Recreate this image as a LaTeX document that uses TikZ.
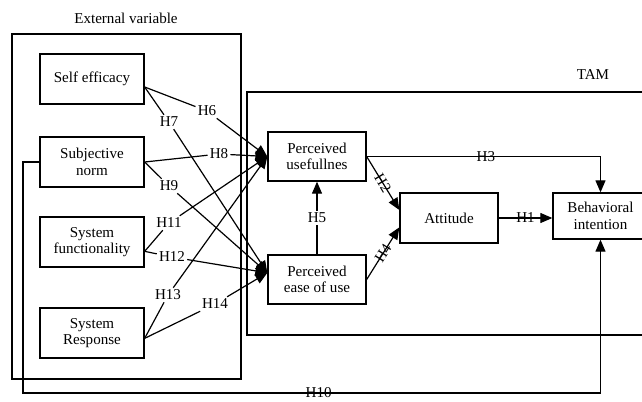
\documentclass[tikz,border=0pt]{standalone}
\usepackage{fontspec}
\setmainfont{Liberation Serif}
\usetikzlibrary{arrows.meta}
\tikzset{varbox/.style={draw,line width=1pt,align=center,inner sep=0.75pt},
    hyp/.style={inner sep=1.5pt,fill=white},
    hypon/.style={inner sep=0.75pt},
    plain/.style={line width=0.9pt},
    link/.style={line width=0.9pt,-{Triangle[length=9pt,width=7.5pt]}}}

\begin{document}
\begin{tikzpicture}[x=0.75pt,y=0.75pt,yscale=-1,xscale=1,font=\fontsize{11.3}{12.5}\selectfont]
\useasboundingbox (0,0) rectangle (642,401);

%Shape: Rectangle [External variable]
\draw [line width=1pt] (12,34) rectangle (241,379);
%Shape: Rectangle [TAM]
\draw [line width=1pt] (247,92) rectangle (655,335);

% Text Node
\node (extlbl) at (126,18) {External variable};
% Text Node
\node (tamlbl) at (593,75) {TAM};

%Shape: Boxes
\node [varbox,minimum width=78pt,minimum height=37.5pt] (se) at (92,79) {Self efficacy};
\node [varbox,minimum width=78pt,minimum height=37.5pt] (sn) at (92,162) {Subjective\\norm};
\node [varbox,minimum width=78pt,minimum height=37.5pt] (sf) at (92,242) {System\\functionality};
\node [varbox,minimum width=78pt,minimum height=37.5pt] (sr) at (92,333) {System\\Response};
\node [varbox,minimum width=73.5pt,minimum height=36.75pt] (pu) at (317,156.5) {Perceived\\usefullnes};
\node [varbox,minimum width=73.5pt,minimum height=36.75pt] (peou) at (317,279.5) {Perceived\\ease of use};
\node [varbox,minimum width=73.5pt,minimum height=37.5pt] (att) at (449,218) {Attitude};
\node [varbox,minimum width=71.25pt,minimum height=34.5pt] (bi) at (600.5,216) {Behavioral\\intention};

% end points
\coordinate (seout) at ([yshift=6pt]se.east);
\coordinate (sfout) at ([yshift=7pt]sf.east);
\coordinate (srout) at ([yshift=4pt]sr.east);
\coordinate (puin) at (pu.west);
\coordinate (peouin) at ([yshift=-5pt]peou.west);
\coordinate (attup) at ([yshift=-6pt]att.west);
\coordinate (attdown) at ([yshift=7pt]att.west);
\coordinate (snleft) at (23,393);

% Text Node
\node [hyp] (h6) at (207,111) {H6};
\node [hyp] (h7) at (169,122) {H7};
\node [hyp] (h8) at (219,154) {H8};
\node [hyp] (h9) at (169,186) {H9};
\node [hyp] (h11) at (169,223) {H11};
\node [hyp] (h12) at (172,257) {H12};
\node [hyp] (h13) at (168,295) {H13};
\node [hyp] (h14) at (215,304) {H14};

%Straight Lines
\draw [plain] (seout) -- (h6);
\draw [link] (h6) -- (puin);
\draw [plain] (seout) -- (h7);
\draw [link] (h7) -- (peouin);
\draw [plain] (sn.east) -- (h8);
\draw [link] (h8) -- (puin);
\draw [plain] (sn.east) -- (h9);
\draw [link] (h9) -- (peouin);
\draw [plain] (sfout) -- (h11);
\draw [link] (h11) -- (puin);
\draw [plain] (sfout) -- (h12);
\draw [link] (h12) -- (peouin);
\draw [plain] (srout) -- (h13);
\draw [link] (h13) -- (puin);
\draw [plain] (srout) -- (h14);
\draw [link] (h14) -- (peouin);

%TAM links
\draw [link] (peou.north) -- node [hyp] {H5} (pu.south);
\draw [link] (pu.east) -- node [hypon,rotate=-59] {H2} (attup);
\draw [link] (peou.east) -- node [hypon,rotate=58] {H4} (attdown);
\draw [link] (att.east) -- node [hypon] {H1} (att.east -| bi.west);
\draw [link] (pu.east) -| node [hypon,pos=0.255] {H3} (bi.north);
\draw [link] (sn.west) -| (snleft) -| node [hypon,pos=0.256] {H10} (bi.south);

\end{tikzpicture}
\end{document}
